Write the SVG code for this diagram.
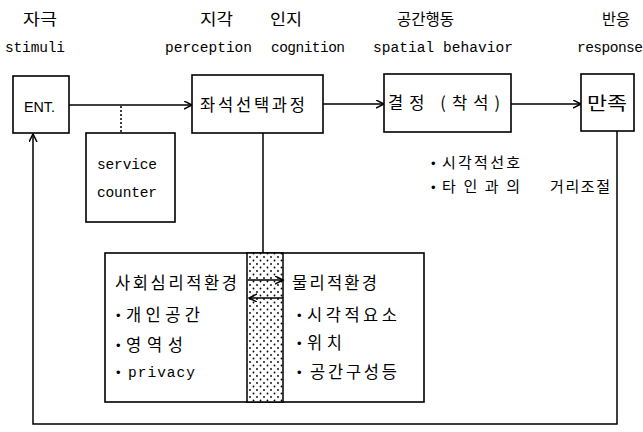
<svg xmlns="http://www.w3.org/2000/svg" width="643" height="432" viewBox="0 0 643 432">
<defs>
<style>
.box{fill:#fff;stroke:#000;stroke-width:1.6}
.ln{fill:none;stroke:#000;stroke-width:1.5}
.ko{font-family:"Noto Sans CJK KR","Noto Sans",sans-serif;font-size:15px;fill:#000}
.kh{font-family:"Noto Sans CJK KR","Noto Sans",sans-serif;font-size:16px;fill:#000}
.kb{font-family:"Noto Sans CJK KR","Noto Sans",sans-serif;font-size:16.5px;fill:#000}
.en{font-family:"Liberation Mono","DejaVu Sans Mono",monospace;font-size:14.5px;fill:#000}
.bul{font-family:"Liberation Sans",Arial,sans-serif;font-size:13px;fill:#000}
</style>
<marker id="arr" markerUnits="userSpaceOnUse" markerWidth="10" markerHeight="10" refX="8" refY="4" orient="auto">
<path d="M0,0 L8,4 L0,8" fill="none" stroke="#000" stroke-width="1.5"/>
</marker>
<pattern id="dots" patternUnits="userSpaceOnUse" width="7" height="7">
<rect width="7" height="7" fill="#fff"/>
<circle cx="1.5" cy="1.5" r="0.9" fill="#000"/>
<circle cx="5" cy="5" r="0.9" fill="#000"/>
</pattern>
</defs>
<rect width="643" height="432" fill="#fff"/>

<g id="headers">
<text class="kh" x="23" y="25" textLength="34" lengthAdjust="spacingAndGlyphs">자극</text>
<text class="en" x="5" y="52" textLength="60" lengthAdjust="spacing">stimuli</text>
<text class="kh" x="200" y="25" textLength="33" lengthAdjust="spacingAndGlyphs">지각</text>
<text class="kh" x="270" y="25" textLength="32" lengthAdjust="spacingAndGlyphs">인지</text>
<text class="en" x="165" y="52" textLength="87" lengthAdjust="spacing">perception</text>
<text class="en" x="271" y="52" textLength="74" lengthAdjust="spacing">cognition</text>
<text class="kh" x="397" y="25" textLength="57" lengthAdjust="spacingAndGlyphs">공간행동</text>
<text class="en" x="373" y="52" textLength="140" lengthAdjust="spacing">spatial behavior</text>
<text class="kh" x="602" y="25" textLength="28" lengthAdjust="spacingAndGlyphs">반응</text>
<text class="en" x="577" y="52" textLength="66" lengthAdjust="spacing">response</text>
</g>

<g id="connectors">
<line class="ln" x1="69" y1="105" x2="192" y2="105" marker-end="url(#arr)"/>
<line class="ln" x1="323" y1="104" x2="384" y2="104" marker-end="url(#arr)"/>
<line class="ln" x1="511" y1="104" x2="581" y2="104" marker-end="url(#arr)"/>
<line class="ln" x1="121" y1="106" x2="121" y2="133" stroke-dasharray="2,2" stroke-width="1.2"/>
<line class="ln" x1="263" y1="133" x2="263" y2="253"/>
<polyline class="ln" points="617,131 617,424 33,424 33,134" marker-end="url(#arr)"/>
</g>

<g id="ent">
<rect class="box" x="13" y="76" width="56" height="57"/>
<text x="24" y="112" textLength="31" lengthAdjust="spacingAndGlyphs" style="font-family:'Liberation Sans',Arial,sans-serif;font-size:14px">ENT.</text>
</g>

<g id="service-counter">
<rect class="box" x="86" y="133" width="89" height="89"/>
<text class="en" x="97" y="169" textLength="60" lengthAdjust="spacing">service</text>
<text class="en" x="97" y="197" textLength="60" lengthAdjust="spacing">counter</text>
</g>

<g id="seat-selection">
<rect class="box" x="192" y="75" width="131" height="58"/>
<text class="kb" x="200" y="111" textLength="105" lengthAdjust="spacing">좌석선택과정</text>
</g>

<g id="decision">
<rect class="box" x="384" y="74" width="127" height="58"/>
<text class="kb" x="388" y="109" textLength="112" lengthAdjust="spacing">결정 (착석)</text>
</g>

<g id="satisfaction">
<rect class="box" x="581" y="74" width="53" height="57"/>
<text class="kb" x="587" y="110" textLength="40" lengthAdjust="spacingAndGlyphs" style="font-size:18px">만족</text>
</g>

<g id="behavior-notes">
<text class="bul" x="431" y="168">•</text>
<text class="ko" x="442" y="168" textLength="78" lengthAdjust="spacing">시각적선호</text>
<text class="bul" x="431" y="192">•</text>
<text class="ko" x="442" y="192" textLength="78" lengthAdjust="spacing">타인과의</text>
<text class="ko" x="550" y="192" textLength="60" lengthAdjust="spacing">거리조절</text>
</g>

<g id="environment">
<rect class="box" x="105" y="253" width="319" height="149"/>
<rect x="247" y="253" width="36" height="149" fill="url(#dots)" stroke="#000" stroke-width="1.5"/>
<line class="ln" x1="248" y1="280" x2="283" y2="280" marker-end="url(#arr)"/>
<line class="ln" x1="283" y1="298" x2="249" y2="298" marker-end="url(#arr)"/>
<text class="kb" x="115" y="289" textLength="122" lengthAdjust="spacing">사회심리적환경</text>
<text class="bul" x="116" y="320">•</text>
<text class="kb" x="126" y="321" textLength="74" lengthAdjust="spacing">개인공간</text>
<text class="bul" x="116" y="350">•</text>
<text class="kb" x="126" y="351" textLength="57" lengthAdjust="spacing">영역성</text>
<text class="bul" x="116" y="377">•</text>
<text class="en" x="128" y="377" textLength="67" lengthAdjust="spacing">privacy</text>
<text class="kb" x="292" y="289" textLength="85" lengthAdjust="spacing">물리적환경</text>
<text class="bul" x="297" y="320">•</text>
<text class="kb" x="307" y="321" textLength="90" lengthAdjust="spacing">시각적요소</text>
<text class="bul" x="297" y="348">•</text>
<text class="kb" x="307" y="349" textLength="35" lengthAdjust="spacing">위치</text>
<text class="bul" x="297" y="377">•</text>
<text class="kb" x="310" y="378" textLength="87" lengthAdjust="spacing">공간구성등</text>
</g>
</svg>
